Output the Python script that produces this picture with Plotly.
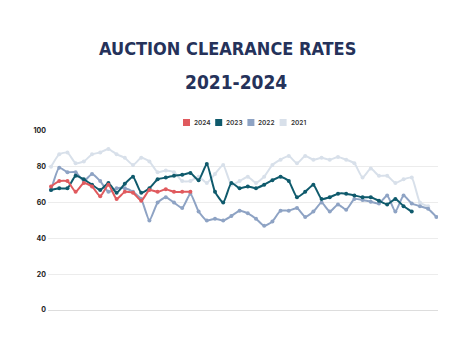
import plotly.graph_objects as go

years = ["2024", "2023", "2022", "2021"]
colors = ["#e05a5e", "#0f5a6c", "#8ea3c4", "#d8e0ea"]

rates_2024 = [69, 72, 72, 66, 71, 69, 63.5, 70, 62, 66, 65.5, 61, 67, 66, 67.5, 66, 66, 66]
rates_2023 = [67, 68, 68, 75, 73, 70, 67, 71, 65.5, 70.5, 74.5, 65.5, 68, 73, 74, 75, 75.5, 76.5,
              72.5, 81.5, 66, 60, 71, 68, 69, 68, 70, 72.5, 74.5, 72, 63, 66, 70, 62, 63, 65,
              65, 64, 63, 63, 61, 59, 62, 58, 55]
rates_2022 = [67, 79.5, 77, 77, 72, 76, 72, 66, 68, 68, 66, 62, 50, 60, 63, 60, 57, 65, 55, 50,
              51, 50, 52.5, 55.5, 54, 51, 47, 49.5, 55.5, 55.5, 57, 52, 55, 60, 55, 59, 56, 62,
              61.5, 60.5, 59.5, 64, 55, 64, 59.5, 58, 56.5, 52]
rates_2021 = [80, 87, 88, 82, 83, 87, 88, 90, 87, 85, 81, 85, 83, 77, 78, 77, 72, 72, 74.5, 71,
              76, 81, 70, 72, 74.5, 71, 74.5, 81, 84, 86, 82, 86, 84, 85, 84, 85.5, 84, 82, 74,
              79, 75, 75, 71, 73, 74, 60, 58]

y_ticks = [0, 20, 40, 60, 80, 100]
title_lines = ["AUCTION CLEARANCE RATES", "2021-2024"]

series = {"2024": rates_2024, "2023": rates_2023, "2022": rates_2022, "2021": rates_2021}

# plot area in reference pixels: x 48..438, y 131..310 (page body adds an 8px offset)
PL, PW, PB, PH = 48, 390, 310, 179


def px(x):
    return (x - PL) / PW


def py(y):
    return (PB - y) / PH


fig = go.Figure()
for yr in ["2021", "2022", "2023", "2024"]:
    c = colors[years.index(yr)]
    vals = series[yr]
    fig.add_trace(go.Scatter(
        x=list(range(len(vals))), y=vals, mode="lines+markers", name=yr,
        line=dict(color=c, width=2, shape="spline", smoothing=0.5),
        marker=dict(color=c, size=4), showlegend=False, hoverinfo="skip"))

fig.update_layout(
    width=474, height=355,
    margin=dict(l=40, r=44, t=123, b=53, autoexpand=False),
    paper_bgcolor="white", plot_bgcolor="white",
    showlegend=False,
    xaxis=dict(visible=False, range=[-0.37, 47.2]),
    yaxis=dict(range=[0, 100], tickvals=y_ticks, showgrid=True, gridcolor="#ececec",
               gridwidth=1, zeroline=True, zerolinecolor="#dddddd", zerolinewidth=1,
               ticks="", ticklabelstandoff=1,
               tickfont=dict(family="Inter", size=7, color="#222222", weight=700),
               showline=False),
)

# title (two lines, slightly different centres as in the reference)
for text, cx, cy, fs in zip(title_lines, [227.5, 236], [49, 82], [18, 19]):
    fig.add_annotation(text=text, xref="paper", yref="paper", x=px(cx), y=py(cy),
                       xanchor="center", yanchor="middle", showarrow=False,
                       font=dict(family="DejaVu Sans Condensed", size=fs, color="#25325a",
                                 weight=700))

# legend built from the years list
for k, (yr, c) in enumerate(zip(years, colors)):
    x0 = 183 + 32.2 * k
    fig.add_shape(type="rect", xref="paper", yref="paper",
                  x0=px(x0), x1=px(x0 + 7), y0=py(126), y1=py(119),
                  fillcolor=c, line=dict(width=0))
    fig.add_annotation(text=yr, xref="paper", yref="paper", x=px(x0 + 9),
                       y=py(122.5), xanchor="left", yanchor="middle", showarrow=False,
                       font=dict(family="Inter", size=6.5, color="#333333", weight=600))

fig.write_html("out.html")
